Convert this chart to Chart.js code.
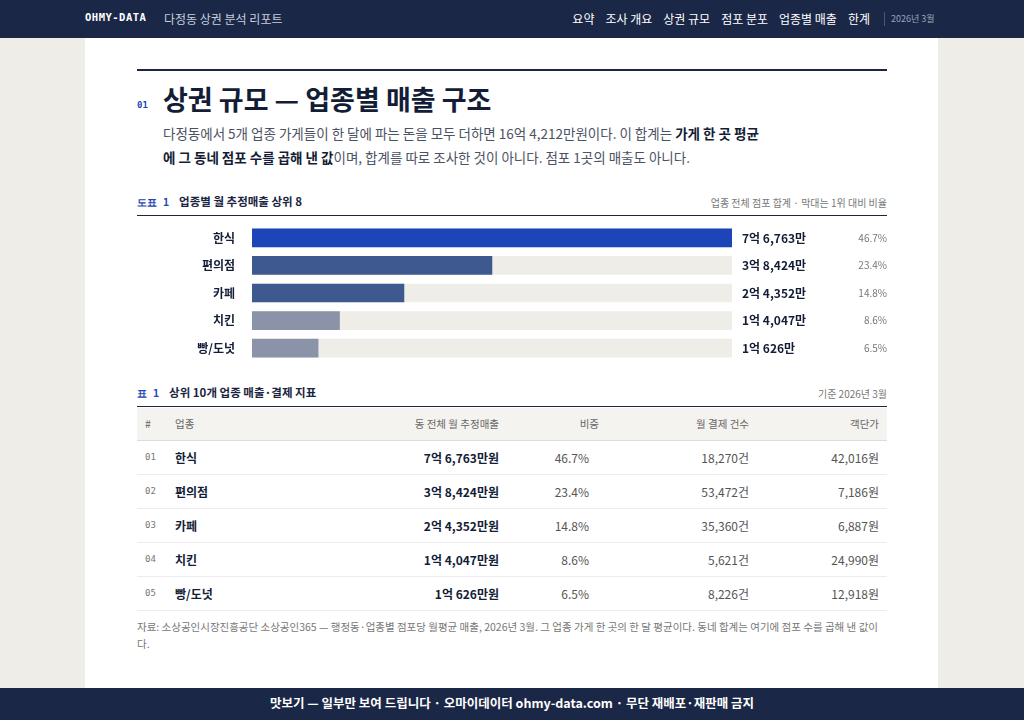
<!DOCTYPE html>
<html><head><meta charset="utf-8">
<script src="https://cdn.jsdelivr.net/npm/chart.js@4"></script>
<style>
*{box-sizing:border-box;margin:0;padding:0}
body{width:1024px;height:720px;overflow:hidden;background:#efede8;font-family:"Noto Sans CJK KR","Noto Sans",sans-serif;color:#1b2540;position:relative}
.nav{position:absolute;left:0;top:0;width:1024px;height:38px;background:#1b2747;color:#fff;font-size:12px}
.nav .brand{position:absolute;left:85px;top:11px;font-family:"DejaVu Sans Mono",monospace;font-weight:bold;font-size:10.5px;letter-spacing:0.5px}
.nav .sub{position:absolute;left:164px;top:10px;color:#c8cfdc;font-size:12px}
.nav .menu{position:absolute;right:154px;top:10px;display:flex;gap:11px;font-size:12px}
.nav .date{position:absolute;left:884px;top:12px;padding-left:6px;border-left:1px solid #4a5677;color:#9aa3b8;font-size:9px;height:14px}
.panel{position:absolute;left:85px;top:38px;width:853px;height:650px;background:#fff}
.foot{position:absolute;left:0;top:688px;width:1024px;height:32px;background:#1b2747;color:#fff;font-weight:bold;font-size:12.5px;text-align:center;line-height:30px}
.abs{position:absolute}
.rule{position:absolute;left:137px;width:750px;background:#1b2540}
h1{position:absolute;left:163px;top:79px;font-size:27px;font-weight:bold;color:#141d36}
.num{position:absolute;left:137px;top:100px;font-family:"DejaVu Sans Mono",monospace;font-size:9px;color:#2346b0;font-weight:bold}
.para{position:absolute;left:163px;top:121px;width:630px;font-size:13.5px;line-height:24px;color:#4b5263}
.para b{color:#141d36}
.cap{position:absolute;left:137px;font-size:11.5px;font-weight:bold;color:#1b2540}
.cap span{color:#2346b0;font-family:"DejaVu Sans Mono",monospace;font-size:10px;margin-right:10px}
.capr{position:absolute;right:137px;font-size:10px;color:#777}
table{position:absolute;left:137px;top:408px;width:750px;border-collapse:collapse;font-size:12px}
th{background:#f4f3ef;height:32px;font-weight:normal;color:#666;font-size:10.5px;border-bottom:1px solid #ddd}
td{height:34px;border-bottom:1px solid #ececec;color:#555}
td.n{font-family:"DejaVu Sans Mono",monospace;font-size:9px;color:#777;padding-left:8px}
td.b{font-weight:bold;color:#141d36}
.r{text-align:right;padding-right:8px}
.note{position:absolute;left:137px;top:618px;width:752px;font-size:10.5px;line-height:17px;color:#777}
</style></head><body>
<div class="nav"><div class="brand">OHMY-DATA</div><div class="sub">다정동 상권 분석 리포트</div>
<div class="menu"><span>요약</span><span>조사 개요</span><span>상권 규모</span><span>점포 분포</span><span>업종별 매출</span><span>한계</span></div>
<div class="date">2026년 3월</div></div>
<div class="panel"></div>
<div class="rule" style="top:69px;height:2px"></div>
<div class="num">01</div>
<h1>상권 규모 — 업종별 매출 구조</h1>
<div class="para">다정동에서 5개 업종 가게들이 한 달에 파는 돈을 모두 더하면 16억 4,212만원이다. 이 합계는 <b>가게 한 곳 평균<br>에 그 동네 점포 수를 곱해 낸 값</b>이며, 합계를 따로 조사한 것이 아니다. 점포 1곳의 매출도 아니다.</div>
<div class="cap" style="top:193px"><span>도표 1</span>업종별 월 추정매출 상위 8</div>
<div class="capr" style="top:195px">업종 전체 점포 합계 · 막대는 1위 대비 비율</div>
<div class="rule" style="top:215px;height:1px"></div>
<div class="abs" style="left:137px;top:208px;width:750px;height:170px"><canvas id="c" width="750" height="170" style="width:750px;height:170px"></canvas></div>
<div class="cap" style="top:384px"><span>표 1</span>상위 10개 업종 매출·결제 지표</div>
<div class="capr" style="top:386px">기준 2026년 3월</div>
<div class="rule" style="top:406px;height:1px"></div>
<table id="t"><thead><tr><th style="width:38px;text-align:left;padding-left:8px">#</th><th style="text-align:left">업종</th><th class="r" style="width:200px">동 전체 월 추정매출</th><th class="r" style="width:100px">비중</th><th class="r" style="width:150px">월 결제 건수</th><th class="r" style="width:130px">객단가</th></tr></thead><tbody></tbody></table>
<div class="note">자료: 소상공인시장진흥공단 소상공인365 — 행정동·업종별 점포당 월평균 매출, 2026년 3월. 그 업종 가게 한 곳의 한 달 평균이다. 동네 합계는 여기에 점포 수를 곱해 낸 값이다.</div>
<div class="foot">맛보기 — 일부만 보여 드립니다 · 오마이데이터 ohmy-data.com · 무단 재배포·재판매 금지</div>
<script>
const categories=["한식","편의점","카페","치킨","빵/도넛"];
const sales=[76763,38424,24352,14047,10626];
const salesLabels=["7억 6,763만","3억 8,424만","2억 4,352만","1억 4,047만","1억 626만"];
const shares=["46.7%","23.4%","14.8%","8.6%","6.5%"];
const payments=["18,270건","53,472건","35,360건","5,621건","8,226건"];
const unitPrices=["42,016원","7,186원","6,887원","24,990원","12,918원"];
const colors=["#1c46b8","#3e5890","#3e5890","#8a93a7","#8a93a7"];

const tb=document.querySelector("#t tbody");
categories.forEach((c,i)=>{const tr=document.createElement("tr");
tr.innerHTML=`<td class="n">0${i+1}</td><td class="b">${c}</td><td class="r b">${salesLabels[i]}원</td><td class="r" style="padding-right:18px">${shares[i]}</td><td class="r">${payments[i]}</td><td class="r">${unitPrices[i]}</td>`;tb.appendChild(tr);});

const valuePlugin={id:"vals",afterDatasetsDraw(ch){const ctx=ch.ctx;const meta=ch.getDatasetMeta(1);
ctx.save();ctx.textBaseline="middle";
meta.data.forEach((b,i)=>{ctx.fillStyle="#141d36";ctx.font="bold 12px 'Noto Sans CJK KR'";ctx.textAlign="left";ctx.fillText(salesLabels[i],605,b.y);
ctx.fillStyle="#777";ctx.font="10px 'Noto Sans CJK KR'";ctx.textAlign="right";ctx.fillText(shares[i],750,b.y);});
ctx.restore();}};
new Chart(document.getElementById("c"),{type:"bar",
data:{labels:categories,datasets:[
{data:categories.map(()=>sales[0]),backgroundColor:"#efede8",grouped:false,barPercentage:0.68,categoryPercentage:1,order:2},
{data:sales,backgroundColor:colors,grouped:false,barPercentage:0.68,categoryPercentage:1,order:1}]},
options:{indexAxis:"y",responsive:false,animation:false,devicePixelRatio:1,
layout:{padding:{right:155,top:0,bottom:0,left:0}},
plugins:{legend:{display:false},tooltip:{enabled:false}},
scales:{x:{display:false,min:0,max:sales[0]},
y:{grid:{display:false},border:{display:false},afterFit(s){s.width=115},ticks:{color:"#141d36",font:{size:12,weight:"bold",family:"Noto Sans CJK KR"},padding:9}}}},
plugins:[valuePlugin]});
</script></body></html>
